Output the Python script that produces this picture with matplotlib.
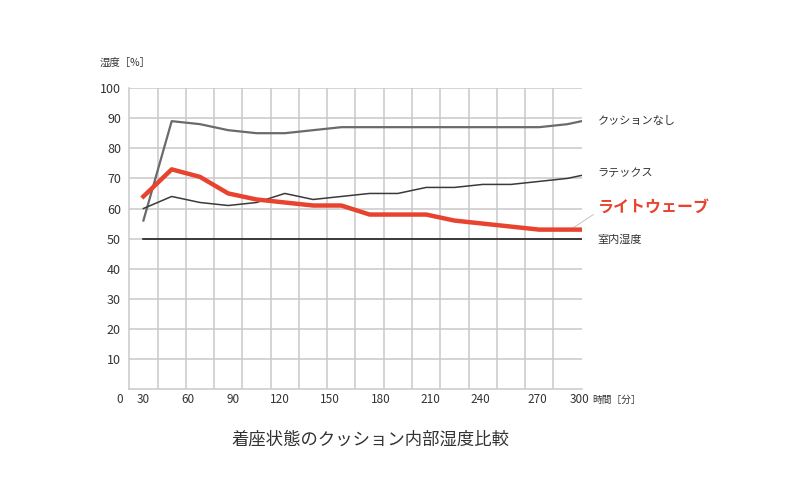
import numpy as np
import matplotlib
matplotlib.use('Agg')
import matplotlib.pyplot as plt
import matplotlib.transforms as mtransforms

plt.rcParams['font.family'] = ['Noto Sans CJK JP', 'DejaVu Sans']

# sample positions, in grid cells (16 cells across the plot)
x_pos = [0.5, 1.5, 2.5, 3.5, 4.5, 5.5, 6.5, 7.5, 8.5, 9.5, 10.5, 11.5, 12.5, 13.5, 14.5, 15.5, 16.0]

no_cushion = [56, 89, 88, 86, 85, 85, 86, 87, 87, 87, 87, 87, 87, 87, 87, 88, 89]
latex = [60, 64, 62, 61, 62, 65, 63, 64, 65, 65, 67, 67, 68, 68, 69, 70, 71]
lightwave = [64, 73, 70.5, 65, 63, 62, 61, 61, 58, 58, 58, 56, 55, 54, 53, 53, 53]
room = [50] * len(x_pos)

y_ticks = [10, 20, 30, 40, 50, 60, 70, 80, 90, 100]
x_labels = ['0', '30', '60', '90', '120', '150', '180', '210', '240', '270', '300']
x_label_pos = [-0.35, 0.49, 2.08, 3.67, 5.33, 7.09, 8.88, 10.65, 12.42, 14.44, 15.94]

grid_c = '#c9c9c9'
txt_c = '#333333'
red = '#e8432e'

fig = plt.figure(figsize=(8, 5), dpi=100)
ax = fig.add_axes([0.1616, 0.2214, 0.5655, 0.6026])

ax.set_xlim(0, 16)
ax.set_ylim(0, 100)

# grid
for yv in y_ticks:
    ax.axhline(yv, color=grid_c, lw=1.1, zorder=0)
for xv in range(1, 16):
    ax.plot([xv, xv], [0, 100], color=grid_c, lw=1.1, zorder=0)

for s in ['top', 'right']:
    ax.spines[s].set_visible(False)
for s in ['left', 'bottom']:
    ax.spines[s].set_color(grid_c)
    ax.spines[s].set_linewidth(1.1)

ax.set_xticks([])
ax.set_yticks(y_ticks)
ax.set_yticklabels([str(v) for v in y_ticks], fontsize=9, color=txt_c)
ax.tick_params(axis='y', length=0, pad=6)

# x labels
trans = mtransforms.blended_transform_factory(ax.transData, ax.transAxes)
for lab, xp in zip(x_labels, x_label_pos):
    ax.text(xp, -0.035, lab, transform=trans, ha='center', va='center',
            fontsize=8.5, color=txt_c, clip_on=False)
ax.text(16.36, -0.035, '時間［分］', transform=trans, ha='left', va='center',
        fontsize=7, color=txt_c, clip_on=False)

# lines
ax.plot(x_pos, room, color='#111111', lw=1.1, zorder=2)
ax.plot(x_pos, no_cushion, color='#6a6a6a', lw=1.6, zorder=3)
ax.plot(x_pos, latex, color='#3a3a3a', lw=1.1, zorder=3)
ax.plot(x_pos, lightwave, color=red, lw=3.2, zorder=4, solid_joinstyle='round')

# right labels
ax.text(16.56, no_cushion[-1], 'クッションなし', ha='left', va='center',
        fontsize=8, color=txt_c, clip_on=False)
ax.text(16.56, latex[-1] + 0.8, 'ラテックス', ha='left', va='center',
        fontsize=8, color=txt_c, clip_on=False)
ax.text(16.56, room[-1] - 0.3, '室内湿度', ha='left', va='center',
        fontsize=8, color=txt_c, clip_on=False)
ax.annotate('ライトウェーブ', xy=(15.7, lightwave[-1] + 0.6), xytext=(16.56, 60.5),
            ha='left', va='center', fontsize=11.5, fontweight='bold', color=red,
            annotation_clip=False,
            arrowprops=dict(arrowstyle='-', color='#bbbbbb', lw=0.6,
                            shrinkA=1, shrinkB=0, relpos=(0, 0.2)))

fig.text(100 / 800, 1 - 63 / 500, '湿度［%］', ha='left', va='center',
         fontsize=7.5, color=txt_c)
fig.text(370 / 800, 1 - 440 / 500, '着座状態のクッション内部湿度比較', ha='center',
         va='center', fontsize=12.5, color=txt_c)

plt.savefig('out.png', dpi=100)
